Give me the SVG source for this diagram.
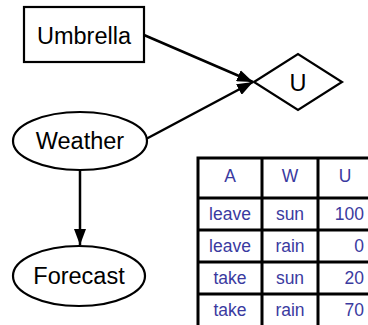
<svg xmlns="http://www.w3.org/2000/svg" width="368" height="325" viewBox="0 0 368 325">
<defs>
<style>
.node{fill:#fff;stroke:#000;stroke-width:2.2}
.lbl{font-family:"Liberation Sans",Arial,sans-serif;font-size:23.5px;fill:#000;text-anchor:middle}
.edge{stroke:#000;stroke-width:2.5;fill:none}
.grid{stroke:#000;stroke-width:3;fill:none}
.cell{font-family:"Liberation Sans",Arial,sans-serif;font-size:17.5px;fill:#3a3aa0;text-anchor:middle}
.num{text-anchor:end}
</style>
<marker id="ah" viewBox="0 0 16 12" refX="16" refY="6" markerWidth="16" markerHeight="12" markerUnits="userSpaceOnUse" orient="auto">
<path d="M0,0 L16,6 L0,12 Z" fill="#000"/>
</marker>
</defs>
<rect width="368" height="325" fill="#fff"/>
<g id="connectors">
<line class="edge" x1="144" y1="35" x2="253" y2="82" marker-end="url(#ah)"/>
<line class="edge" x1="146" y1="139" x2="253" y2="82" marker-end="url(#ah)"/>
<line class="edge" x1="80" y1="170" x2="80" y2="245" marker-end="url(#ah)"/>
</g>
<g id="umbrella">
<rect class="node" x="24" y="7" width="120" height="55"/>
<text class="lbl" x="84" y="44">Umbrella</text>
</g>
<g id="utility">
<polygon class="node" points="254,82 298,54 342,82 298,110"/>
<text class="lbl" x="298" y="91">U</text>
</g>
<g id="weather">
<ellipse class="node" cx="80" cy="141" rx="67" ry="29"/>
<text class="lbl" x="80" y="149">Weather</text>
</g>
<g id="forecast">
<ellipse class="node" cx="79" cy="276" rx="66" ry="30"/>
<text class="lbl" x="79" y="284">Forecast</text>
</g>
<g id="table">
<path class="grid" d="M198,330 V158 H372 M262,158 V330 M318,158 V330 M198,198 H372 M198,230 H372 M198,262 H372 M198,294 H372"/>
<text class="cell" x="230" y="182">A</text>
<text class="cell" x="290" y="182">W</text>
<text class="cell" x="345" y="182">U</text>
<text class="cell" x="230" y="220">leave</text>
<text class="cell" x="290" y="220">sun</text>
<text class="cell num" x="364" y="220">100</text>
<text class="cell" x="230" y="252">leave</text>
<text class="cell" x="290" y="252">rain</text>
<text class="cell num" x="364" y="252">0</text>
<text class="cell" x="230" y="284">take</text>
<text class="cell" x="290" y="284">sun</text>
<text class="cell num" x="364" y="284">20</text>
<text class="cell" x="230" y="316">take</text>
<text class="cell" x="290" y="316">rain</text>
<text class="cell num" x="364" y="316">70</text>
</g>
</svg>
